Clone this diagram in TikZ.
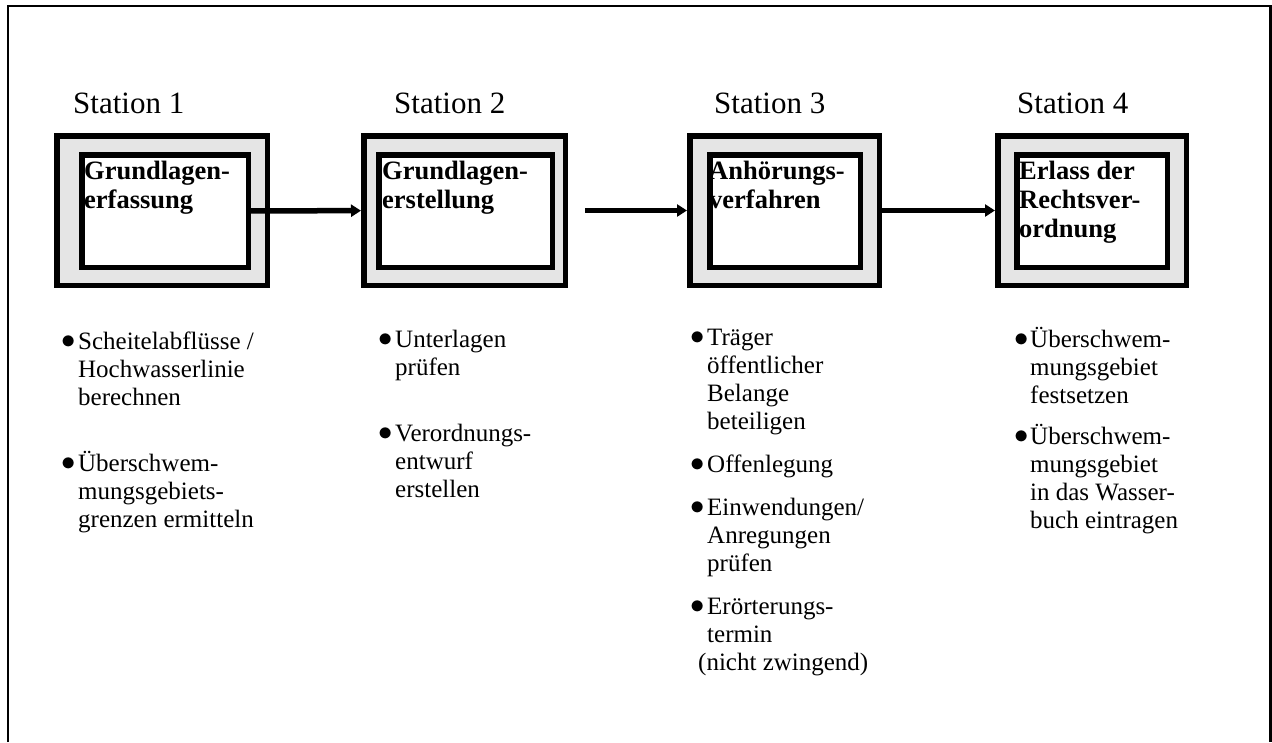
\documentclass[tikz,border=0pt]{standalone}
\usepackage{fontspec}
\setmainfont{Liberation Serif}
\usepackage{tikz}
\usetikzlibrary{arrows.meta}
\tikzstyle{station}=[draw, line width=5.5pt, fill=gray!20, inner sep=0pt, minimum height=149.5pt]
\tikzstyle{innerbox}=[draw, line width=5.5pt, fill=white, inner sep=0pt, minimum height=112.5pt]
\tikzstyle{stationlabel}=[anchor=base west, inner sep=0pt, font=\fontsize{31}{37}\selectfont]
\tikzstyle{boxtitle}=[anchor=base west, inner sep=0pt, font=\bfseries\fontsize{26.5}{29}\selectfont]
\tikzstyle{tasks}=[anchor=base west, inner sep=0pt, font=\fontsize{25}{28}\selectfont]
\providecommand{\bul}{\hspace*{-1pt}\raisebox{1pt}{\scalebox{1.15}{$\bullet$}}}

\begin{document}
\begin{tikzpicture}[x=1pt, y=-1pt,
    every edge/.style={draw, line width=5.5pt, -{Triangle[length=10pt, width=12pt]}}
]
\useasboundingbox (0,0) rectangle (1272,742);
\draw[line width=2.5pt] (8,742) -- (8,6) -- (1270.5,6) -- (1270.5,742);

\node[station, minimum width=210.5pt] (st1) at (162,210.5) {};
\node[station, minimum width=201.5pt] (st2) at (464.5,210.5) {};
\node[station, minimum width=189.5pt] (st3) at (784.5,210.5) {};
\node[station, minimum width=188.5pt] (st4) at (1092,210.5) {};
\node[innerbox, minimum width=166.5pt] (in1) at (165,211) {};
\node[innerbox, minimum width=173.5pt] (in2) at (465.5,211) {};
\node[innerbox, minimum width=150.5pt] (in3) at (785,211) {};
\node[innerbox, minimum width=150.5pt] (in4) at (1092,211) {};

\node[stationlabel] (lab1) at (73,113) {Station 1};
\node[stationlabel] (lab2) at (394,113) {Station 2};
\node[stationlabel] (lab3) at (714,113) {Station 3};
\node[stationlabel] (lab4) at (1017,113) {Station 4};

\node[boxtitle] (tit1) at (84,179) {\begin{tabular}[t]{@{}l@{}}Grundlagen-\\erfassung\end{tabular}};
\node[boxtitle] (tit2) at (382,179) {\begin{tabular}[t]{@{}l@{}}Grundlagen-\\erstellung\end{tabular}};
\node[boxtitle] (tit3) at (709,179) {\begin{tabular}[t]{@{}l@{}}Anhörungs-\\verfahren\end{tabular}};
\node[boxtitle] (tit4) at (1019,179) {\begin{tabular}[t]{@{}l@{}}Erlass der\\Rechtsver-\\ordnung\end{tabular}};

\node[tasks] (tasks1) at (62,349) {\begin{tabular}[t]{@{}p{16pt}@{}l@{}}
\bul & Scheitelabflüsse / \\ & Hochwasserlinie \\ & berechnen \\[38pt]
\bul & Überschwem- \\ & mungsgebiets- \\ & grenzen ermitteln
\end{tabular}};
\node[tasks] (tasks2) at (379,347) {\begin{tabular}[t]{@{}p{16pt}@{}l@{}}
\bul & Unterlagen \\ & prüfen \\[38pt]
\bul & Verordnungs- \\ & entwurf \\ & erstellen
\end{tabular}};
\node[tasks] (tasks3) at (691,345) {\begin{tabular}[t]{@{}p{16pt}@{}l@{}}
\bul & Träger \\ & öffentlicher \\ & Belange \\ & beteiligen \\[15pt]
\bul & Offenlegung \\[15pt]
\bul & Einwendungen/ \\ & Anregungen \\ & prüfen \\[15pt]
\bul & Erörterungs- \\ & termin \\
\multicolumn{2}{@{}l@{}}{\hspace{7pt}(nicht zwingend)}
\end{tabular}};
\node[tasks] (tasks4) at (1015,347) {\begin{tabular}[t]{@{}p{15pt}@{}l@{}}
\bul & Überschwem- \\ & mungsgebiet \\ & festsetzen \\[13pt]
\bul & Überschwem- \\ & mungsgebiet \\ & in das Wasser- \\ & buch eintragen
\end{tabular}};

\path
(in1) edge (st2)
([xshift=17pt]st2.east) edge (st3)
(st3) edge (st4)
;
\end{tikzpicture}
\end{document}
